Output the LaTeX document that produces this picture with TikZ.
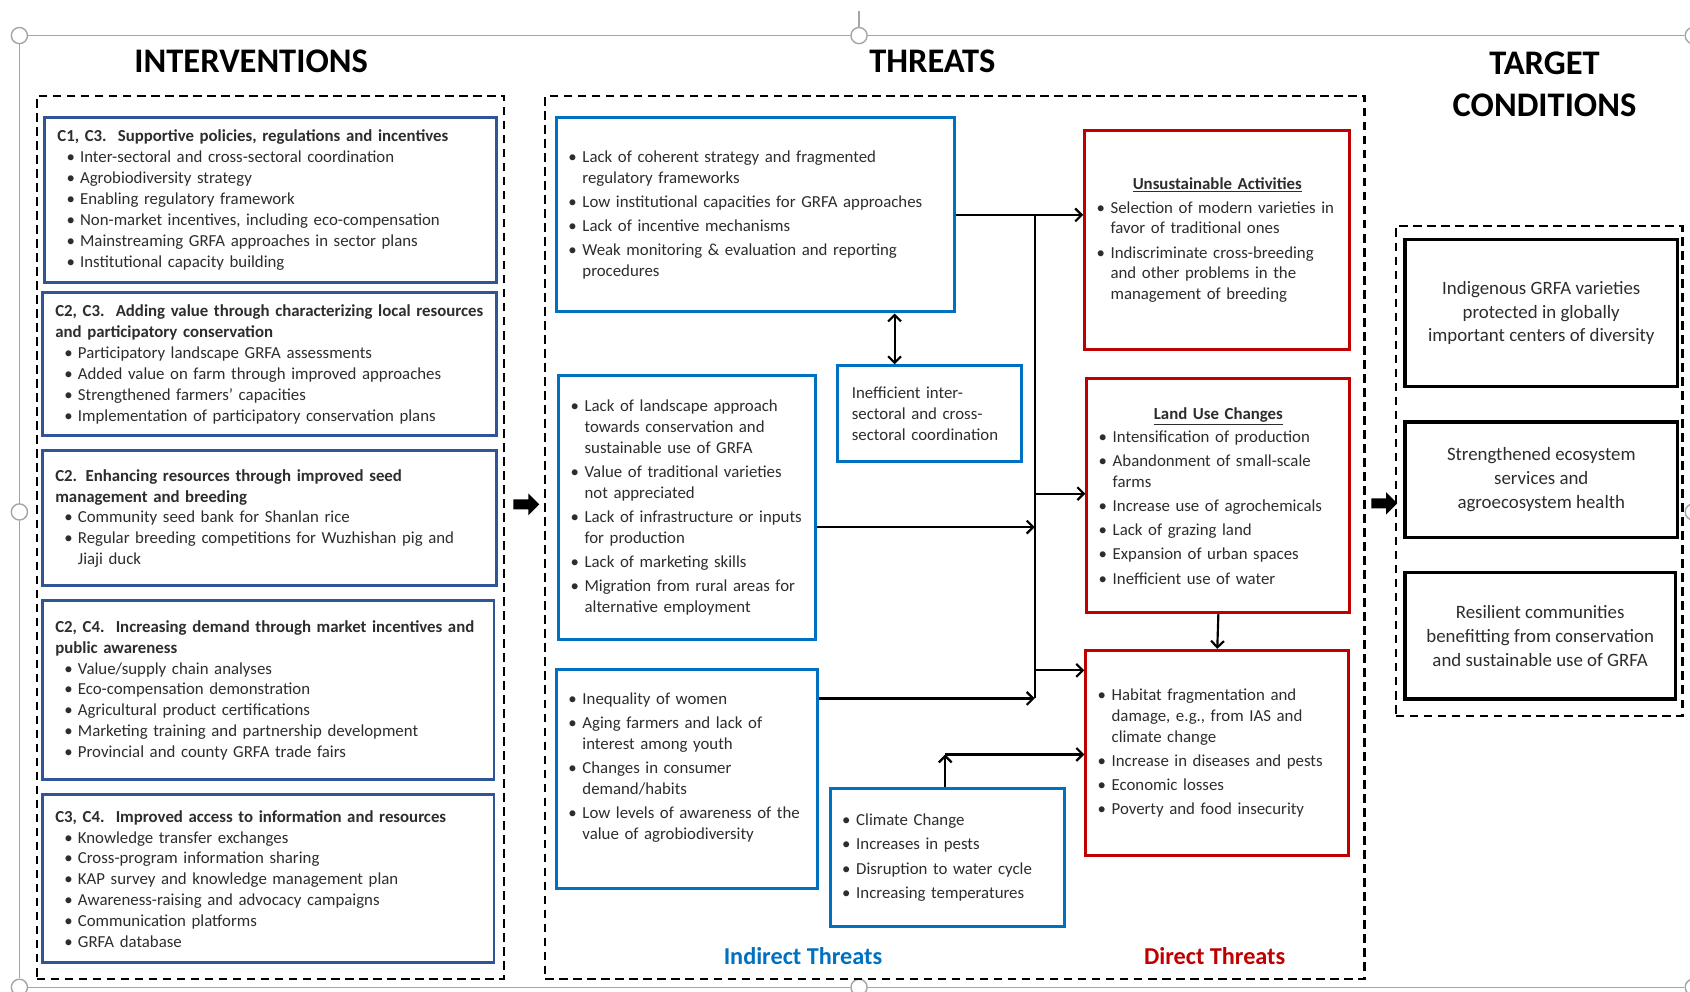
\documentclass[tikz,border=0pt]{standalone}
\usepackage{fontspec}
\setmainfont{Carlito}
\usetikzlibrary{arrows.meta,shapes.arrows}
\definecolor{lblue}{RGB}{47,85,151}
\definecolor{iblue}{RGB}{0,112,192}
\definecolor{dred}{RGB}{192,0,0}
\definecolor{txt}{RGB}{45,45,45}
\definecolor{framec}{RGB}{165,165,165}
% left boxes
\newcommand{\lt}[1]{\par\noindent\mbox{\bfseries #1}}
\newcommand{\lb}[1]{\par\noindent\mbox{\hspace*{8.5pt}\makebox[12.5pt][l]{\textbullet}#1}}
\newcommand{\lc}[1]{\par\noindent\mbox{\hspace*{21pt}#1}}
% threat boxes
\newcommand{\tf}[1]{\par\noindent\mbox{\makebox[11pt][l]{\hspace*{-2pt}\textbullet}#1}}
\newcommand{\tb}[1]{\par\vspace{3pt}\noindent\mbox{\makebox[11pt][l]{\hspace*{-2pt}\textbullet}#1}}
\newcommand{\tc}[1]{\par\noindent\mbox{\hspace*{11pt}#1}}
\newcommand{\tl}[1]{\par\noindent\mbox{#1}}
\newcommand{\hd}[1]{\par\noindent\makebox[\hsize][c]{\bfseries\underline{#1}}\par\vspace{2pt}}
\newcommand{\tailgap}{\par\vspace{8pt}}
\newcommand{\biggap}{\par\vspace{22pt}}
\begin{document}
\begin{tikzpicture}[x=1pt,y=-1pt,
  frameline/.style={draw=framec,line width=1.3pt},
  handle/.style={circle,draw=framec,fill=white,line width=1.3pt,minimum size=15pt,inner sep=0pt},
  dashbox/.style={draw=black,line width=2pt,dash pattern=on 8pt off 5pt,anchor=north west,inner sep=0pt},
  bx/.style={anchor=north west,inner ysep=3pt,text=txt,font=\fontsize{15.6}{19.4}\selectfont,execute at end node=\tailgap},
  lbox/.style={bx,draw=lblue,line width=2.6pt,inner xsep=12pt},
  ibox/.style={bx,draw=iblue,line width=2.8pt,inner xsep=13pt},
  dbox/.style={bx,draw=dred,line width=2.8pt,inner xsep=13pt},
  tbox/.style={anchor=north west,draw=black,line width=3pt,align=center,text=txt,font=\fontsize{17.5}{22}\selectfont},
  ttl/.style={font=\fontsize{32}{39}\selectfont\bfseries,text=black,align=center},
  conn/.style={draw=black,line width=2pt,-{Straight Barb[length=6pt,width=12pt]}},
  dconn/.style={draw=black,line width=2pt,{Straight Barb[length=6pt,width=12pt]}-{Straight Barb[length=6pt,width=12pt]}},
  plain/.style={draw=black,line width=2pt},
  blk/.style={single arrow,fill=black,inner sep=4.5pt,minimum height=24pt,single arrow head extend=5.5pt}
]
\useasboundingbox[fill=white] (0,0) rectangle (1568,920);

% selection frame (screenshot handles)
\node[handle] (hTL) at (18,33) {};
\node[handle] (hTM) at (797,33) {};
\node[handle] (hTR) at (1571,33) {};
\node[handle] (hML) at (18,475) {};
\node[handle] (hMR) at (1571,475) {};
\node[handle] (hBL) at (18,916) {};
\node[handle] (hBM) at (797,916) {};
\node[handle] (hBR) at (1571,916) {};
\coordinate (tk) at (797,10);
\draw[frameline] (hTL) -- (hTM) -- (hTR);
\draw[frameline] (hTL) -- (hML) -- (hBL);
\draw[frameline] (hBL) -- (hBM) -- (hBR);
\draw[frameline] (hTM) -- (tk);

% titles
\node[ttl] (tI) at (233,57) {INTERVENTIONS};
\node[ttl] (tTh) at (865,57) {THREATS};
\node[ttl] (tTC) at (1433,78) {TARGET\\CONDITIONS};

% dashed groups
\node[dashbox,minimum width=434pt,minimum height=819pt] (gI) at (33,88) {};
\node[dashbox,minimum width=760pt,minimum height=819pt] (gT) at (505,88) {};
\node[dashbox,minimum width=266pt,minimum height=454pt] (gC) at (1294,209) {};

% interventions
\node[lbox,minimum width=419pt,minimum height=147pt,text width=395pt] (i1) at (40,108) {%
\lt{C1, C3.\ \ Supportive policies, regulations and incentives}%
\lb{Inter-sectoral and cross-sectoral coordination}%
\lb{Agrobiodiversity strategy}%
\lb{Enabling regulatory framework}%
\lb{Non-market incentives, including eco-compensation}%
\lb{Mainstreaming GRFA approaches in sector plans}%
\lb{Institutional capacity building}};

\node[lbox,minimum width=421pt,minimum height=132pt,text width=397pt] (i2) at (38,270) {%
\lt{C2, C3.\ \ Adding value through characterizing local resources}%
\lt{and participatory conservation}%
\lb{Participatory landscape GRFA assessments}%
\lb{Added value on farm through improved approaches}%
\lb{Strengthened farmers’ capacities}%
\lb{Implementation of participatory conservation plans}};

\node[lbox,minimum width=421pt,minimum height=125pt,text width=397pt] (i3) at (38,417) {%
\lt{C2. Enhancing resources through improved seed}%
\lt{management and breeding}%
\lb{Community seed bank for Shanlan rice}%
\lb{Regular breeding competitions for Wuzhishan pig and}%
\lc{Jiaji duck}};

\node[lbox,minimum width=419pt,minimum height=166pt,text width=395pt] (i4) at (38,556) {%
\lt{C2, C4.\ \ Increasing demand through market incentives and}%
\lt{public awareness}%
\lb{Value/supply chain analyses}%
\lb{Eco-compensation demonstration}%
\lb{Agricultural product certifications}%
\lb{Marketing training and partnership development}%
\lb{Provincial and county GRFA trade fairs}};

\node[lbox,minimum width=419pt,minimum height=156pt,text width=395pt] (i5) at (38,736) {%
\lt{C3, C4.\ \ Improved access to information and resources}%
\lb{Knowledge transfer exchanges}%
\lb{Cross-program information sharing}%
\lb{KAP survey and knowledge management plan}%
\lb{Awareness-raising and advocacy campaigns}%
\lb{Communication platforms}%
\lb{GRFA database}};

% indirect threats
\node[ibox,minimum width=369pt,minimum height=180pt,text width=343pt] (ta) at (515,108) {%
\tf{Lack of coherent strategy and fragmented}%
\tc{regulatory frameworks}%
\tb{Low institutional capacities for GRFA approaches}%
\tb{Lack of incentive mechanisms}%
\tb{Weak monitoring \& evaluation and reporting}%
\tc{procedures}};

\node[ibox,minimum width=170pt,minimum height=89pt,text width=144pt] (tco) at (776,338) {%
\tl{Inefficient inter-}%
\tl{sectoral and cross-}%
\tl{sectoral coordination}};

\node[ibox,minimum width=238pt,minimum height=245pt,text width=212pt] (tbb) at (517,347) {%
\tf{Lack of landscape approach}%
\tc{towards conservation and}%
\tc{sustainable use of GRFA}%
\tb{Value of traditional varieties}%
\tc{not appreciated}%
\tb{Lack of infrastructure or inputs}%
\tc{for production}%
\tb{Lack of marketing skills}%
\tb{Migration from rural areas for}%
\tc{alternative employment}};

\node[ibox,minimum width=242pt,minimum height=203pt,text width=216pt] (tcc) at (515,620) {%
\tf{Inequality of women}%
\tb{Aging farmers and lack of}%
\tc{interest among youth}%
\tb{Changes in consumer}%
\tc{demand/habits}%
\tb{Low levels of awareness of the}%
\tc{value of agrobiodiversity}\biggap};

\node[ibox,minimum width=217pt,minimum height=128pt,text width=191pt,inner xsep=12pt] (tdd) at (769,730) {%
\tf{Climate Change}%
\tb{Increases in pests}%
\tb{Disruption to water cycle}%
\tb{Increasing temperatures}};

% direct threats
\node[dbox,minimum width=246pt,minimum height=203pt,text width=220pt] (du) at (1005,120) {%
\hd{Unsustainable Activities}%
\tf{Selection of modern varieties in}%
\tc{favor of traditional ones}%
\tb{Indiscriminate cross-breeding}%
\tc{and other problems in the}%
\tc{management of breeding}};

\node[dbox,minimum width=244pt,minimum height=217pt,text width=218pt] (dl) at (1007,350) {%
\hd{Land Use Changes}%
\tf{Intensification of production}%
\tb{Abandonment of small-scale}%
\tc{farms}%
\tb{Increase use of agrochemicals}%
\tb{Lack of grazing land}%
\tb{Expansion of urban spaces}%
\tb{Inefficient use of water}};

\node[dbox,minimum width=244pt,minimum height=190pt,text width=218pt] (dh) at (1006,602) {%
\tf{Habitat fragmentation and}%
\tc{damage, e.g., from IAS and}%
\tc{climate change}%
\tb{Increase in diseases and pests}%
\tb{Economic losses}%
\tb{Poverty and food insecurity}};

\node[text=iblue,font=\fontsize{22.5}{27}\selectfont\bfseries] (lInd) at (745,887) {Indirect Threats};
\node[text=dred,font=\fontsize{22.5}{27}\selectfont\bfseries] (lDir) at (1127,887) {Direct Threats};

% target conditions
\node[tbox,minimum width=253pt,minimum height=136pt] (c1) at (1302,221) {Indigenous GRFA varieties\\protected in globally\\important centers of diversity};
\node[tbox,minimum width=253pt,minimum height=107pt] (c2) at (1302,390) {Strengthened ecosystem\\services and\\agroecosystem health};
\node[tbox,minimum width=251pt,minimum height=117pt] (c3) at (1302,530) {Resilient communities\\benefitting from conservation\\and sustainable use of GRFA};

% block arrows
\node[blk] (ba1) at (486,468) {};
\node[blk] (ba2) at (1282,467) {};

% connectors
\coordinate (bB) at (960,489);
\coordinate (bC) at (960,648);
\coordinate (bL) at (960,458);
\coordinate (bH) at (960,622);
\coordinate (dA) at (830,0);
\coordinate (cc) at (877,700);
\draw[conn] (ta.east) -- (ta.east -| du.west);
\draw[plain] (ta.east -| bB) -- (bC);
\draw[conn] (tbb.east |- bB) -- (bB);
\draw[conn] (tcc.east |- bC) -- (bC);
\draw[conn] (bL) -- (bL -| dl.west);
\draw[conn] (bH) -- (bH -| dh.west);
\draw[dconn] (ta.south -| dA) -- (tco.north -| dA);
\draw[conn] (tdd.north -| cc) -- (cc);
\draw[conn] (cc) -- (cc -| dh.west);
\draw[conn] (dl.south) -- (dh.north);
\end{tikzpicture}
\end{document}
